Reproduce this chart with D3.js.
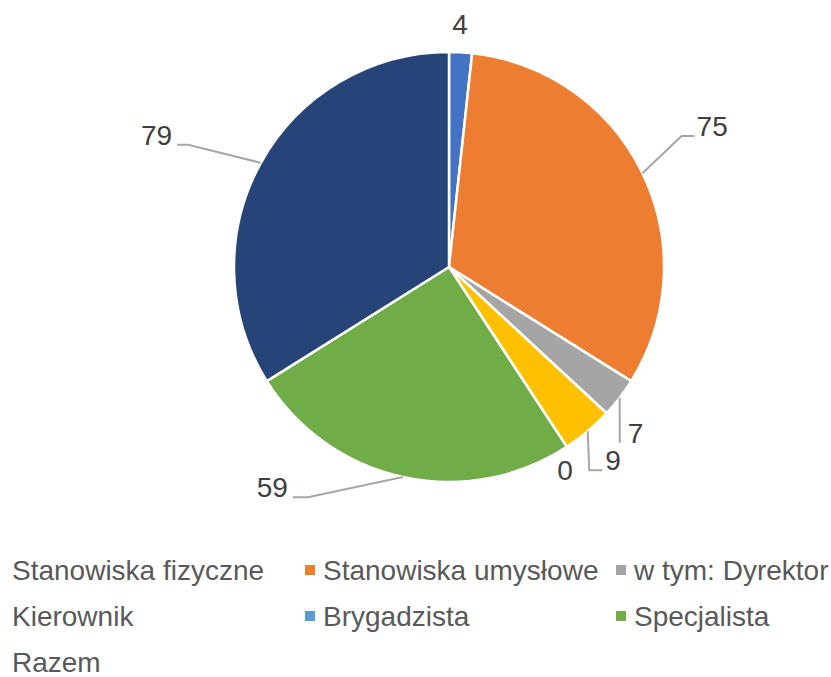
<!DOCTYPE html>
<html>
<head>
    <meta charset="utf-8">
    <title>Stanowiska</title>
    <script src="https://cdnjs.cloudflare.com/ajax/libs/d3/7.8.5/d3.min.js"></script>
    <style>
        body { margin: 0; background: #fff; }
        svg { display: block; font-family: "Liberation Sans", Arial, sans-serif; }
    </style>
</head>
<body>
<div id="chart"></div>
<script>
    // data
    var categories = ["Stanowiska fizyczne", "Stanowiska umysłowe", "w tym: Dyrektor",
                      "Kierownik", "Brygadzista", "Specjalista", "Razem"];
    var values = [4, 75, 7, 9, 0, 59, 79];
    var colors = ["#4472C4", "#ED7D31", "#A5A5A5", "#FFC000", "#5B9BD5", "#70AD47", "#264478"];

    // where excel left each data label (polar: degrees clockwise from top, radius)
    // kind "free" = no leader line, text centred; "lead" = elbow leader line
    var labelPlace = [
        {kind: "free", a: 2.6, r: 243},
        {kind: "lead", a: 60.6, r: 267, tail: 13, gap: 15},
        {kind: "lead", a: 135.8, r: 245, tail: 0, gap: 8},
        {kind: "lead", a: 145.4, r: 247, tail: 13, gap: 16},
        {kind: "free", a: 150.3, r: 234},
        {kind: "lead", a: 211.5, r: 270, tail: -15, gap: -20},
        {kind: "lead", a: 295.1, r: 288, tail: -11, gap: -16}
    ];

    var width = 831,
        height = 677,
        cx = 449,
        cy = 267,
        radius = 215,
        fontSize = 28;

    var svg = d3.select("#chart").append("svg")
        .attr("width", width)
        .attr("height", height);

    var pie = d3.pie().sort(null).value(function(d) { return d; });
    var arcs = pie(values);

    var arc = d3.arc().innerRadius(0).outerRadius(radius);

    var g = svg.append("g")
        .attr("transform", "translate(" + cx + "," + cy + ")");

    g.selectAll("path.slice")
        .data(arcs)
        .enter().append("path")
        .attr("class", "slice")
        .attr("d", arc)
        .attr("fill", function(d, i) { return colors[i]; })
        .attr("stroke", "#fff")
        .attr("stroke-width", 2.5)
        .attr("stroke-linejoin", "round");

    var rad = Math.PI / 180;

    arcs.forEach(function(d, i) {
        var p = labelPlace[i];
        var mid = (d.startAngle + d.endAngle) / 2;
        var el = d3.pointRadial(p.a * rad, p.r);
        if (p.kind === "free") {
            g.append("text")
                .attr("x", el[0])
                .attr("y", el[1])
                .attr("text-anchor", "middle")
                .attr("dy", "0.35em")
                .attr("font-size", fontSize)
                .attr("fill", "#404040")
                .text(values[i]);
            return;
        }
        var s = d3.pointRadial(mid, radius);
        g.append("polyline")
            .attr("points", [s, el, [el[0] + p.tail, el[1]]].map(function(q) { return q.join(","); }).join(" "))
            .attr("fill", "none")
            .attr("stroke", "#A6A6A6")
            .attr("stroke-width", 2);
        g.append("text")
            .attr("x", el[0] + p.gap)
            .attr("y", el[1])
            .attr("text-anchor", p.gap < 0 ? "end" : "start")
            .attr("font-size", fontSize)
            .attr("fill", "#404040")
            .text(values[i]);
    });

    // legend: 3 columns; the first column's swatches sit outside the chart area and get clipped
    svg.append("clipPath")
        .attr("id", "legclip")
        .append("rect")
        .attr("x", 6)
        .attr("y", 0)
        .attr("width", width)
        .attr("height", height);

    var colX = d3.scaleLinear().domain([0, 1]).range([-6, 305]);
    var rowY = d3.scaleLinear().domain([0, 1]).range([580, 626]);

    var legend = svg.append("g").attr("clip-path", "url(#legclip)");

    var leg = legend.selectAll("g.leg")
        .data(categories)
        .enter().append("g")
        .attr("class", "leg")
        .attr("transform", function(d, i) {
            return "translate(" + colX(i % 3) + "," + rowY(Math.floor(i / 3)) + ")";
        });

    leg.append("rect")
        .attr("x", 0)
        .attr("y", -15)
        .attr("width", 10)
        .attr("height", 10)
        .attr("fill", function(d, i) { return colors[i]; });

    leg.append("text")
        .attr("x", 18)
        .attr("y", 0)
        .attr("font-size", fontSize)
        .attr("fill", "#595959")
        .text(function(d) { return d; });
</script>
</body>
</html>
